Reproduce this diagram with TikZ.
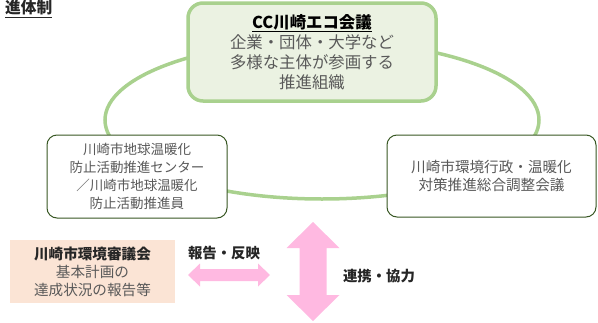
\documentclass[tikz,border=0pt]{standalone}
\usepackage{fontspec}
\setmainfont{Noto Sans CJK JP}
\usetikzlibrary{positioning}
\definecolor{ringgreen}{RGB}{169,209,142}
\definecolor{corefill}{RGB}{235,242,226}
\definecolor{memberline}{RGB}{56,87,35}
\definecolor{councilfill}{RGB}{251,228,213}
\definecolor{linkpink}{RGB}{255,185,225}
\definecolor{bodygray}{RGB}{89,89,89}
\definecolor{headgray}{RGB}{38,38,38}

\begin{document}
\begin{tikzpicture}[x=1pt, y=-1pt,
    member/.style={draw=memberline, line width=1pt, fill=white, rounded corners=10pt, align=center, text=bodygray, inner sep=0pt},
    linklabel/.style={text=headgray, font=\fontsize{14.4}{18}\selectfont\bfseries, inner sep=0pt}]
    \useasboundingbox (0,0) rectangle (598,322);

    \node[anchor=west, text=headgray, font=\fontsize{15.7}{18}\selectfont\bfseries, inner sep=0pt] (T) at (5,9) {\underline{進体制}};

    % ring behind the boxes
    \draw[ringgreen, line width=3.5pt] (322,120) ellipse [x radius=217pt, y radius=79pt];

    \node[draw=ringgreen, line width=3.5pt, fill=corefill, rounded corners=15pt, align=center, text=bodygray, inner sep=0pt, minimum width=248pt, minimum height=98pt, font=\fontsize{16.4}{20}\selectfont] (CC) at (312,52) {{\color{black}\bfseries\underline{CC川崎エコ会議}}\\企業・団体・大学など\\多様な主体が参画する\\推進組織};

    \node[member, minimum width=180pt, minimum height=83pt, font=\fontsize{13.5}{18}\selectfont] (CTR) at (137,176.5) {川崎市地球温暖化\\防止活動推進センター\\／川崎市地球温暖化\\防止活動推進員};

    \node[member, minimum width=209pt, minimum height=82pt, font=\fontsize{14.6}{18}\selectfont] (ADM) at (491.5,176) {川崎市環境行政・温暖化\\対策推進総合調整会議};

    \node[fill=councilfill, align=center, text=bodygray, inner sep=0pt, minimum width=165pt, minimum height=63pt, font=\fontsize{14.6}{18}\selectfont] (ENV) at (92.5,271.5) {{\color{headgray}\bfseries 川崎市環境審議会}\\基本計画の\\達成状況の報告等};

    % pink arrows
    \fill[linkpink] (188,275) -- (200,263.5) -- (200,269) -- (258,269) -- (258,263.5) -- (270,275) -- (258,286.5) -- (258,281) -- (200,281) -- (200,286.5) -- cycle;
    \fill[linkpink] (313,222) -- (339.5,248) -- (326.5,248) -- (326.5,295) -- (339.5,295) -- (313,321) -- (286.5,295) -- (299.5,295) -- (299.5,248) -- (286.5,248) -- cycle;

    \node[linklabel] (REP) at (224,253) {報告・反映};
    \node[linklabel] (COOP) at (379,276) {連携・協力};
\end{tikzpicture}
\end{document}
